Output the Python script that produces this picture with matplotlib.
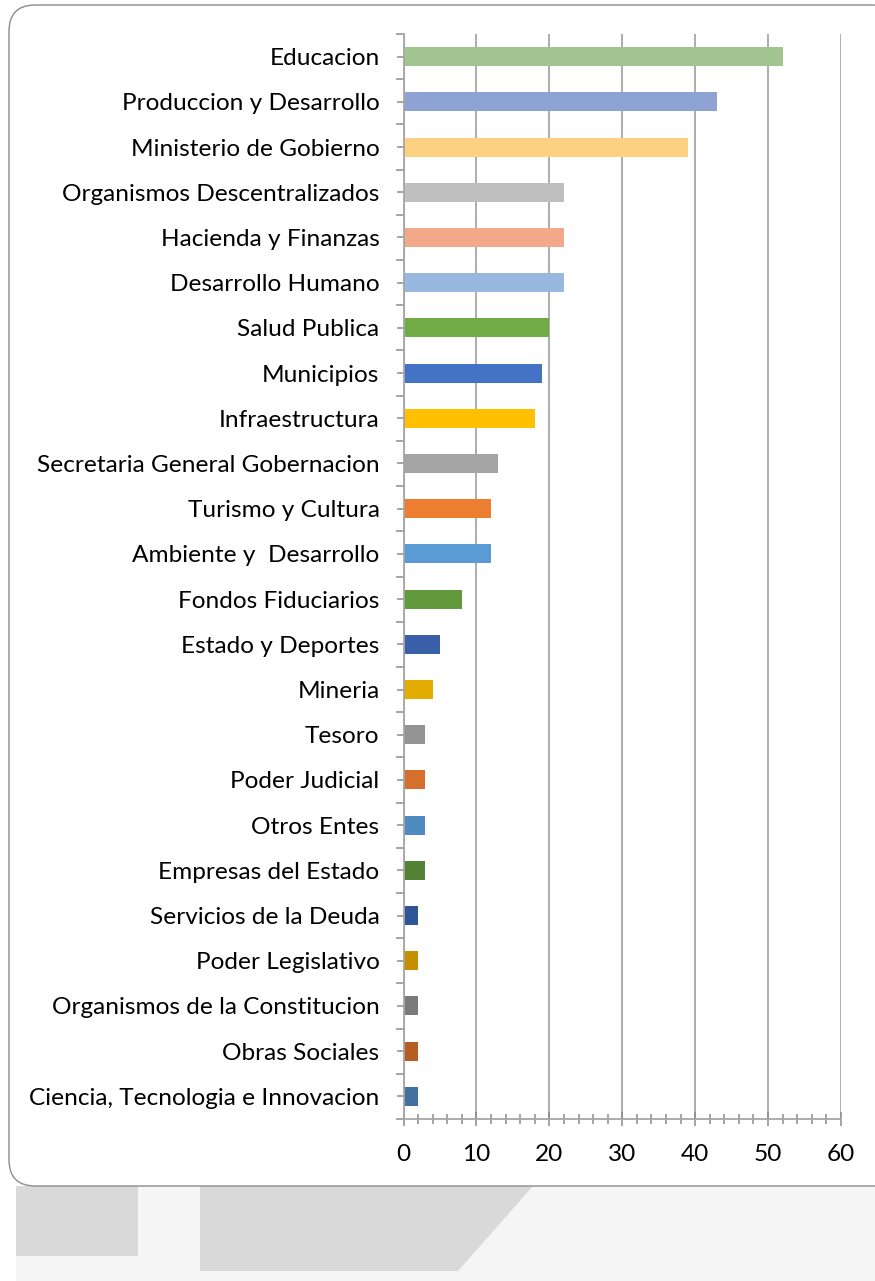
import matplotlib.pyplot as plt
import numpy as np
from matplotlib.patches import FancyBboxPatch, Rectangle, Polygon
from matplotlib.ticker import MultipleLocator

plt.rcParams['font.family'] = ['Lato', 'DejaVu Sans']

# Data, listed top to bottom as in the chart
categories = ['Educacion', 'Produccion y Desarrollo', 'Ministerio de Gobierno',
              'Organismos Descentralizados', 'Hacienda y Finanzas', 'Desarrollo Humano',
              'Salud Publica', 'Municipios', 'Infraestructura',
              'Secretaria General Gobernacion', 'Turismo y Cultura', 'Ambiente y  Desarrollo',
              'Fondos Fiduciarios', 'Estado y Deportes', 'Mineria', 'Tesoro',
              'Poder Judicial', 'Otros Entes', 'Empresas del Estado',
              'Servicios de la Deuda', 'Poder Legislativo',
              'Organismos de la Constitucion', 'Obras Sociales',
              'Ciencia, Tecnologia e Innovacion']
values = [52, 43, 39, 22, 22, 22, 20, 19, 18, 13, 12, 12, 8, 5, 4, 3, 3, 3, 3, 2, 2, 2, 2, 2]
colors = ['#A2C490', '#8EA2D3', '#FED081', '#BFBFBF', '#F1A989', '#98B8DF',
          '#70AB46', '#4472C4', '#FFC000', '#A5A5A5', '#ED7D31', '#5B9BD5',
          '#63993D', '#3A60AA', '#E2AC00', '#939393', '#D56F2B', '#4F8AC0',
          '#548235', '#2F5597', '#C49000', '#7B7B7B', '#B55D22', '#41719C']
x_ticks = [0, 10, 20, 30, 40, 50, 60]

W, H = 875, 1281
fig = plt.figure(figsize=(W / 100, H / 100), dpi=100)
fig.patch.set_facecolor('white')

# background decoration below the card
fig.add_artist(Rectangle((16 / W, 0), 1 - 16 / W, (H - 1186) / H, transform=fig.transFigure,
                         facecolor='#F5F5F5', edgecolor='none', zorder=0))
fig.add_artist(Rectangle((16 / W, (H - 1256) / H), (138 - 16) / W, (1256 - 1186) / H,
                         transform=fig.transFigure, facecolor='#D9D9D9', edgecolor='none', zorder=0))
trap = np.array([[200, 1186], [533, 1186], [458, 1271], [200, 1271]], dtype=float)
trap[:, 0] /= W
trap[:, 1] = (H - trap[:, 1]) / H
fig.add_artist(Polygon(trap, closed=True, transform=fig.transFigure,
                       facecolor='#D9D9D9', edgecolor='none', zorder=0))

# rounded card
fig.add_artist(FancyBboxPatch((9 / W, (H - 1186) / H), (900 - 9) / W, (1186 - 5) / H,
                              boxstyle='round,pad=0,rounding_size=0.03',
                              mutation_aspect=W / H,
                              transform=fig.transFigure, facecolor='white',
                              edgecolor='#8C8C8C', linewidth=1.0, zorder=1))

ax = fig.add_axes([403.5 / W, 1 - 1119 / H, (841 - 403.5) / W, (1119 - 34) / H])
ax.set_facecolor('none')
ax.set_zorder(2)

n = len(categories)
ypos = np.arange(n)[::-1]
ax.barh(ypos, values, height=0.42, color=colors, zorder=3)

ax.set_xlim(0, 60)
ax.set_ylim(-0.5, n - 0.5)
ax.set_xticks(x_ticks)
ax.set_xticklabels([str(t) for t in x_ticks])
ax.xaxis.set_minor_locator(MultipleLocator(2))
ax.set_yticks(ypos)
ax.set_yticklabels(categories)
ax.set_yticks(np.arange(n + 1) - 0.5, minor=True)

ax.grid(axis='x', which='major', color='#A6A6A6', linewidth=1.3, zorder=1)
for s in ['top', 'right']:
    ax.spines[s].set_visible(False)
for s in ['left', 'bottom']:
    ax.spines[s].set_color('#A6A6A6')
    ax.spines[s].set_linewidth(1.3)
    ax.spines[s].set_zorder(4)

ax.tick_params(axis='y', which='major', direction='inout', length=9.5, width=1.1,
               color='#8C8C8C', pad=12.5, labelsize=17.6, labelcolor='black')
ax.tick_params(axis='y', which='minor', direction='out', length=6, width=1.1, color='#8C8C8C')
ax.tick_params(axis='x', which='major', direction='inout', length=10, width=1.1,
               color='#8C8C8C', pad=13, labelsize=17.6, labelcolor='black')
ax.tick_params(axis='x', which='minor', direction='inout', length=7, width=1.1, color='#8C8C8C')

fig.savefig('out.png', dpi=100)
